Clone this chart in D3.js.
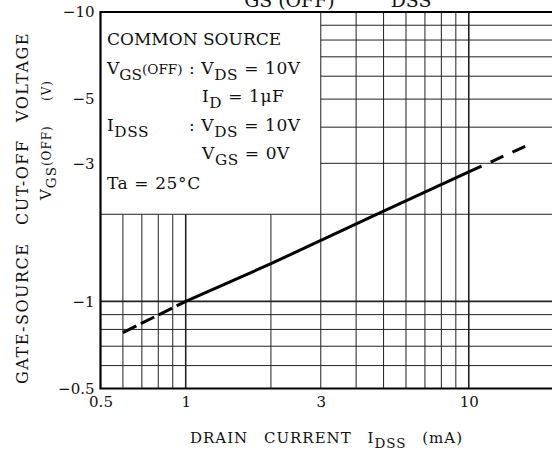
<!DOCTYPE html>
<html>
<head>
<meta charset="utf-8">
<script src="https://cdn.jsdelivr.net/npm/d3@7"></script>
<style>
  body { margin: 0; background: #ffffff; }
  svg { display: block; font-family: "DejaVu Serif", serif; }
</style>
</head>
<body>
<div id="container"></div>
<script>
/* CONSTANTS AND GLOBALS */
const width = 552,
  height = 450,
  margin = { top: 12, bottom: 61.5, left: 100.5, right: -2 }

/* DATA | drain current (mA) vs. |VGS(OFF)| (V) */
const drainCurrent = [0.6, 1, 2, 5, 10, 16.5]
const cutoffVoltage = [0.78, 1.0, 1.35, 2.05, 2.8, 3.5]
const solidFrom = 1, solidTo = 4 /* indices: dashed outside this range */

const xTicks = [0.5, 1, 3, 10]
const yTicks = [0.5, 1, 3, 5, 10]
const xGrid = [0.6, 0.7, 0.8, 0.9, 1, 2, 3, 4, 5, 6, 7, 8, 9, 10]
const yGrid = [0.6, 0.7, 0.8, 0.9, 1, 2, 3, 4, 5, 6, 7, 8, 9]

/* legend box corner, in data units */
const boxCurrent = 3, boxVoltage = 2

/* SCALES */
const xScale = d3.scaleLog()
  .domain([0.5, 20])
  .range([margin.left, width - margin.right])

const yScale = d3.scaleLog()
  .domain([0.5, 10])
  .range([height - margin.bottom, margin.top])

/* SVG */
const svg = d3.select("#container")
  .append("svg")
  .attr("width", width)
  .attr("height", height)

/* rich text helper: parts = [text, "sub"|"small"|null] */
function richText(g, x, y, parts, size, anchor) {
  const t = g.append("text")
    .attr("x", x).attr("y", y)
    .attr("font-size", size)
    .attr("text-anchor", anchor || "start")
    .attr("fill", "#111")
  let shift = 0
  parts.forEach(([s, kind]) => {
    const target = kind === "sub" ? size * 0.33 : 0
    t.append("tspan")
      .attr("dy", target - shift)
      .attr("font-size", kind === "small" ? size * 0.8 : kind === "sub" ? size * 0.9 : size)
      .text(s)
    shift = target
  })
  return t
}

/* stretch the gaps between words so a line fills a given length */
function spreadWords(t, target, gaps) {
  const len = t.node().getComputedTextLength()
  t.attr("word-spacing", Math.max(0, (target - len) / gaps))
  return t
}

/* GRID */
const grid = svg.append("g").attr("stroke", "#222").attr("fill", "none")

grid.selectAll(".vgrid")
  .data(xGrid)
  .join("line")
  .attr("class", "vgrid")
  .attr("x1", d => xScale(d)).attr("x2", d => xScale(d))
  .attr("y1", d => d < boxCurrent ? yScale(boxVoltage) : yScale(10))
  .attr("y2", yScale(0.5))
  .attr("stroke-width", d => d === 1 || d === 10 ? 1.6 : 1)

grid.selectAll(".hgrid")
  .data(yGrid)
  .join("line")
  .attr("class", "hgrid")
  .attr("y1", d => yScale(d)).attr("y2", d => yScale(d))
  .attr("x1", d => d > boxVoltage ? xScale(boxCurrent) : xScale(0.5))
  .attr("x2", width)
  .attr("stroke-width", d => d === 1 ? 1.6 : 1)

/* frame: left, top, bottom */
svg.append("path")
  .attr("d", `M${width},${yScale(10)} H${xScale(0.5)} V${yScale(0.5)} H${width}`)
  .attr("fill", "none")
  .attr("stroke", "#000")
  .attr("stroke-width", 2.2)

/* AXES */
const yAxis = d3.axisLeft(yScale)
  .tickValues(yTicks)
  .tickSize(0)
  .tickPadding(6)
  .tickFormat(d => "\u2212" + d)

svg.append("g")
  .attr("transform", `translate(${margin.left}, 0)`)
  .call(yAxis)
  .call(g => g.select(".domain").remove())
  .selectAll("text")
  .attr("font-family", "DejaVu Serif")
  .attr("font-size", 15)
  .attr("fill", "#111")

const xAxis = d3.axisBottom(xScale)
  .tickValues(xTicks)
  .tickSize(0)
  .tickPadding(8)
  .tickFormat(d => d)

svg.append("g")
  .attr("transform", `translate(0, ${height - margin.bottom})`)
  .call(xAxis)
  .call(g => g.select(".domain").remove())
  .selectAll("text")
  .attr("font-family", "DejaVu Serif")
  .attr("font-size", 15)
  .attr("fill", "#111")

/* CURVE */
const points = drainCurrent.map((c, i) => ({ c, v: cutoffVoltage[i] }))
const lineGen = d3.line().x(d => xScale(d.c)).y(d => yScale(d.v))

const segments = [
  { pts: points.slice(0, solidFrom + 1), dash: "15,5" },
  { pts: points.slice(solidFrom, solidTo + 1), dash: null },
  { pts: points.slice(solidTo), dash: "14,10" }
]

svg.selectAll(".curve")
  .data(segments)
  .join("path")
  .attr("class", "curve")
  .attr("d", d => lineGen(d.pts))
  .attr("fill", "none")
  .attr("stroke", "#000")
  .attr("stroke-width", 3)
  .attr("stroke-dasharray", d => d.dash)

/* LEGEND TEXT */
const legend = svg.append("g").attr("letter-spacing", 0.6)
const fs = 17
richText(legend, 107, 45, [["COMMON SOURCE"]], fs).attr("letter-spacing", 0)
richText(legend, 107, 74, [["V"], ["GS", "sub"], ["(OFF)", "small"]], fs).attr("letter-spacing", 0)
richText(legend, 189, 74, [[": V"], ["DS", "sub"], [" = 10V"]], fs)
richText(legend, 202, 102, [["I"], ["D", "sub"], [" = 1\u03bcF"]], fs)
richText(legend, 107, 131, [["I"], ["DSS", "sub"]], fs)
richText(legend, 189, 131, [[": V"], ["DS", "sub"], [" = 10V"]], fs)
richText(legend, 202, 159, [["V"], ["GS", "sub"], [" = 0V"]], fs)
richText(legend, 107, 189, [["Ta = 25\u00b0C"]], fs)

/* AXIS TITLES */
const titles = svg.append("g")
spreadWords(richText(titles, 190, 443,
  [["DRAIN CURRENT I"], ["DSS", "sub"], [" (mA)"]], 15).attr("letter-spacing", 1), 273, 3)

spreadWords(richText(titles, 0, 0,
  [["GATE-SOURCE CUT-OFF VOLTAGE"]], 16, "middle").attr("letter-spacing", 1.5), 352, 2)
  .attr("transform", `translate(28, 208) rotate(-90)`)

spreadWords(richText(titles, 0, 0,
  [["V"], ["GS", "sub"], ["(OFF) (V)", "small"]], 15, "middle").attr("letter-spacing", 1), 120, 1)
  .attr("transform", `translate(51, 140) rotate(-90)`)

/* chart title, mostly cut off above the frame */
richText(titles, 229, 0,
  [["V"], ["GS (OFF)", "sub"], ["\u00a0\u00a0\u2014\u00a0\u00a0I"], ["DSS", "sub"]], 21)
</script>
</body>
</html>
